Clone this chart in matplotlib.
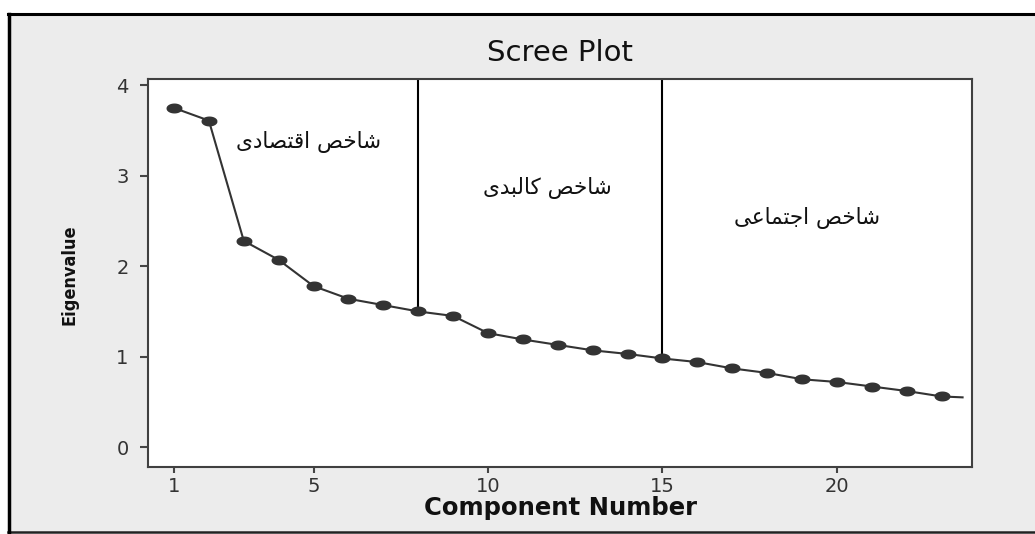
import numpy as np
import matplotlib
matplotlib.use("Agg")
import matplotlib.pyplot as plt
from matplotlib.patches import Rectangle
from matplotlib.lines import Line2D

# Scree plot values
components = list(range(1, 24))
eigenvalues = [3.75, 3.61, 2.28, 2.07, 1.78, 1.64, 1.57, 1.50, 1.45, 1.26, 1.19, 1.13,
               1.07, 1.03, 0.98, 0.94, 0.87, 0.82, 0.75, 0.72, 0.67, 0.62, 0.56]
# line runs on a little past the last marker
tail_x = 23.6
tail_y = 0.55
xticks = [1, 5, 10, 15, 20]
yticks = [0, 1, 2, 3, 4]
# group borders and labels
split_components = [8, 15]
group_labels = ["شاخص اقتصادی", "شاخص کالبدی", "شاخص اجتماعی"]
group_label_x = [4.87, 11.69, 19.14]
group_label_y = [3.37, 2.87, 2.53]

# matplotlib 3.10 has no arabic shaping, so pick presentation forms by hand
# letter: (isolated, final, initial, medial)
FORMS = {
    "ا": ("\uFE8D", "\uFE8E", None, None),
    "ب": ("\uFE8F", "\uFE90", "\uFE91", "\uFE92"),
    "ت": ("\uFE95", "\uFE96", "\uFE97", "\uFE98"),
    "ج": ("\uFE9D", "\uFE9E", "\uFE9F", "\uFEA0"),
    "خ": ("\uFEA5", "\uFEA6", "\uFEA7", "\uFEA8"),
    "د": ("\uFEA9", "\uFEAA", None, None),
    "ش": ("\uFEB5", "\uFEB6", "\uFEB7", "\uFEB8"),
    "ص": ("\uFEB9", "\uFEBA", "\uFEBB", "\uFEBC"),
    "ع": ("\uFEC9", "\uFECA", "\uFECB", "\uFECC"),
    "ق": ("\uFED5", "\uFED6", "\uFED7", "\uFED8"),
    "ک": ("\uFB8E", "\uFB8F", "\uFB90", "\uFB91"),
    "ل": ("\uFEDD", "\uFEDE", "\uFEDF", "\uFEE0"),
    "م": ("\uFEE1", "\uFEE2", "\uFEE3", "\uFEE4"),
    "ی": ("\uFBFC", "\uFBFD", "\uFBFE", "\uFBFF"),
}


def shape(text):
    out = []
    for i, ch in enumerate(text):
        if ch not in FORMS:
            out.append(ch)
            continue
        prev = text[i - 1] if i > 0 else ""
        nxt = text[i + 1] if i + 1 < len(text) else ""
        iso, fin, ini, med = FORMS[ch]
        joinPrev = prev in FORMS and FORMS[prev][2] is not None
        joinNext = nxt in FORMS and ini is not None
        if joinPrev and joinNext:
            out.append(med)
        elif joinPrev:
            out.append(fin)
        elif joinNext:
            out.append(ini)
        else:
            out.append(iso)
    # right to left -> visual order
    return "".join(reversed(out))


W, H = 1035, 534
fig = plt.figure(figsize=(W / 100, H / 100), dpi=100, facecolor="white")

# gray panel with black frame on top, left and bottom
fig.add_artist(Rectangle((9 / W, 2 / H), 1 - 9 / W, 518 / H, transform=fig.transFigure,
                         facecolor="#ececec", edgecolor="none", zorder=0))
fig.add_artist(Line2D([8 / W, 1], [520 / H, 520 / H], transform=fig.transFigure, color="black", lw=2.2))
fig.add_artist(Line2D([8 / W, 1], [2 / H, 2 / H], transform=fig.transFigure, color="#222222", lw=1.8))
fig.add_artist(Line2D([9 / W, 9 / W], [2 / H, 520 / H], transform=fig.transFigure, color="black", lw=2.5))

ax = fig.add_axes([148 / W, 67 / H, 824 / W, 388 / H])
ax.set_facecolor("white")

# ellipse marker (picture is stretched sideways)
t = np.linspace(0, 2 * np.pi, 40)
ellipse = np.column_stack([np.cos(t) * 1.7, np.sin(t)])

ax.plot(components + [tail_x], eigenvalues + [tail_y], color="#333333", lw=1.5, zorder=2)
ax.plot(components, eigenvalues, linestyle="none", marker=ellipse, markersize=10.5,
        markerfacecolor="#333333", markeredgecolor="#333333", zorder=3)

ax.set_xlim(0.255, 23.87)
ax.set_ylim(-0.22, 4.07)

for c in split_components:
    ax.vlines(c, eigenvalues[c - 1], 4.07, color="black", lw=1.5, zorder=2)

for lab, lx, ly in zip(group_labels, group_label_x, group_label_y):
    ax.text(lx, ly, shape(lab), ha="center", va="center", fontsize=15.5,
            family=["DejaVu Sans"], color="#111111")

ax.set_xticks(xticks)
ax.set_yticks(yticks)
ax.set_xticklabels([str(v) for v in xticks], fontsize=14, color="#333333")
ax.set_yticklabels([str(v) for v in yticks], fontsize=14, color="#333333")
ax.tick_params(axis="x", length=4, width=1.5, color="#444444", pad=3)
ax.tick_params(axis="y", length=6, width=1.5, color="#444444", pad=8)
for s in ax.spines.values():
    s.set_color("#404040")
    s.set_linewidth(1.5)

fig.text(560 / W, 481 / H, "Scree Plot", ha="center", va="center", fontsize=21, color="#111111")
ax.text(0.5, -0.106, "Component Number", transform=ax.transAxes, ha="center", va="center",
        fontsize=17.5, fontweight="bold", color="#111111")
ax.text(-0.095, 0.495, "Eigenvalue", transform=ax.transAxes, ha="center", va="center",
        rotation=90, fontsize=13, fontstretch="condensed", fontweight="bold",
        family=["DejaVu Sans"], color="#111111")

fig.savefig("out.png", dpi=100, facecolor="white")
